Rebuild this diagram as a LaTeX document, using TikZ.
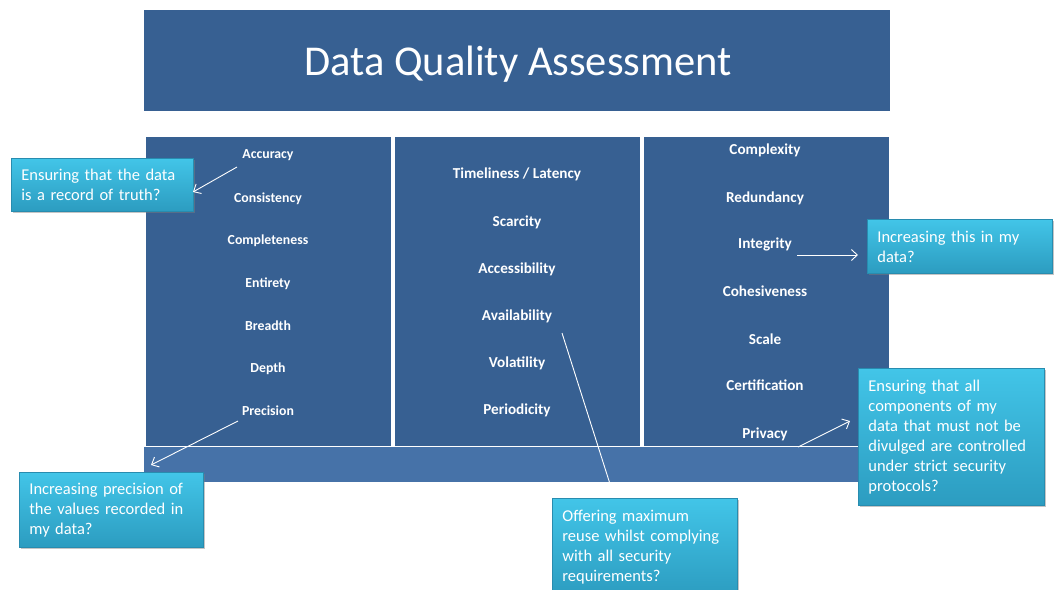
\documentclass[tikz,border=0pt]{standalone}
\usepackage{fontspec}
\setmainfont{Carlito}
\usetikzlibrary{arrows.meta,shadows}
\definecolor{dqblue}{RGB}{55,96,146}
\definecolor{dqband}{RGB}{70,114,168}
\definecolor{cotop}{RGB}{66,197,232}
\definecolor{cobot}{RGB}{44,156,192}
\definecolor{coline}{RGB}{40,140,175}
\tikzset{
  colbox/.style={fill=dqblue,draw=none,minimum width=245pt,minimum height=309pt,anchor=north west,inner sep=0pt},
  item/.style={text=white,font=\fontsize{13.8}{16}\selectfont\bfseries,inner sep=0pt,anchor=base},
  itemb/.style={item,font=\fontsize{15.2}{18}\selectfont\bfseries},
  callout/.style={draw=coline,line width=0.8pt,top color=cotop,bottom color=cobot,
    drop shadow={opacity=0.45,shadow xshift=1.5pt,shadow yshift=-1.5pt},
    text=white,align=left,anchor=north west,inner xsep=10pt,inner ysep=4pt,
    font=\fontsize{16.5}{20}\selectfont},
  pointer/.style={draw=white,line width=0.9pt,-{Straight Barb[length=6pt,width=11pt]}},
}
\begin{document}
\begin{tikzpicture}[x=1pt,y=-1pt]
\useasboundingbox (0,0) rectangle (1057,589);
\fill[white] (0,0) rectangle (1057,589);
% title
\node[fill=dqblue,minimum width=746pt,minimum height=101pt,anchor=north west,inner sep=0pt] (title) at (144,10) {};
\node[text=white,font=\fontsize{42.5}{50}\selectfont,anchor=base,inner sep=0pt] (ttext) at (518,75) {Data Quality Assessment};
% band
\node[fill=dqband,minimum width=746pt,minimum height=35pt,anchor=north west,inner sep=0pt] (band) at (144,447) {};
% columns
\node[colbox] (c1) at (146,137) {};
\node[colbox] (c2) at (395,137) {};
\node[colbox] (c3) at (644,137) {};
% column 1
\node[item] (acc) at (268,158) {Accuracy};
\node[item] (con) at (268,202) {Consistency};
\node[item] (com) at (268,244) {Completeness};
\node[item] (ent) at (268,287) {Entirety};
\node[item] (bre) at (268,330) {Breadth};
\node[item] (dep) at (268,372) {Depth};
\node[item] (pre) at (268,415) {Precision};
% column 2
\node[itemb] (tim) at (517,178) {Timeliness / Latency};
\node[itemb] (sca) at (517,226) {Scarcity};
\node[itemb] (acs) at (517,273) {Accessibility};
\node[itemb] (ava) at (517,320) {Availability};
\node[itemb] (vol) at (517,367) {Volatility};
\node[itemb] (per) at (517,414) {Periodicity};
% column 3
\node[itemb] (cpx) at (765,154) {Complexity};
\node[itemb] (red) at (765,202) {Redundancy};
\node[itemb] (int) at (765,248) {Integrity};
\node[itemb] (coh) at (765,296) {Cohesiveness};
\node[itemb] (scl) at (765,344) {Scale};
\node[itemb] (cer) at (765,390) {Certification};
\node[itemb] (pri) at (765,438) {Privacy};
% callouts
\node[callout,minimum width=182pt,minimum height=53pt,text width=162pt] (k1) at (11,158)
  {Ensuring that the data\\is a record of truth?};
\node[callout,minimum width=185pt,minimum height=54pt,text width=165pt] (k2) at (867,219)
  {Increasing this in my\\data?};
\node[callout,minimum width=186pt,minimum height=137pt,text width=166pt] (k3) at (858,368)
  {Ensuring that all\\components of my\\data that must not be\\divulged are controlled\\under strict security\\protocols?};
\node[callout,minimum width=184pt,minimum height=75pt,text width=164pt] (k4) at (19,472)
  {Increasing precision of\\the values recorded in\\my data?};
\node[callout,minimum width=185pt,minimum height=98pt,text width=165pt,inner ysep=6pt] (k5) at (552,498)
  {Offering maximum\\reuse whilst complying\\with all security\\requirements?};
% pointers
\coordinate (s1) at (237,167);
\coordinate (t1) at (193,192);
\coordinate (s2) at (238,421);
\coordinate (t2) at (151,465);
\coordinate (s3) at (562,333);
\coordinate (t3) at (610,484);
\coordinate (s4) at (797,255);
\coordinate (t4) at (858,255);
\coordinate (s5) at (798,447);
\coordinate (t5) at (850,421);
\draw[pointer] (s1) -- (t1);
\draw[pointer] (s2) -- (t2);
\draw[draw=white,line width=0.9pt] (s3) -- (t3);
\draw[pointer] (s4) -- (t4);
\draw[pointer] (s5) -- (t5);
\end{tikzpicture}
\end{document}
